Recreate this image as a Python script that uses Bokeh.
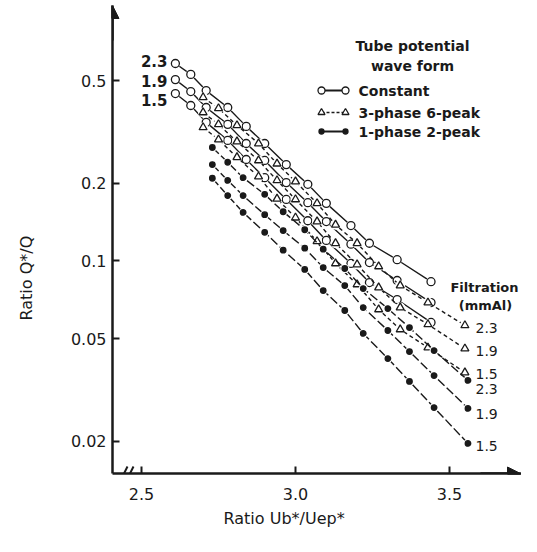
import math
from bokeh.plotting import figure
from bokeh.models import FixedTicker, Label, Arrow, NormalHead, CustomJSTickFormatter, Title
from bokeh.embed import file_html
from bokeh.resources import INLINE

# ---------------- data ----------------
filtration = ["2.3", "1.9", "1.5"]

const_x = [2.61, 2.66, 2.71, 2.78, 2.84, 2.90, 2.97, 3.04, 3.10, 3.18, 3.24, 3.33, 3.44]
const_23 = [0.582, 0.528, 0.457, 0.393, 0.332, 0.285, 0.236, 0.198, 0.167, 0.137, 0.117, 0.101, 0.083]
const_19 = [0.504, 0.453, 0.393, 0.338, 0.285, 0.245, 0.201, 0.168, 0.142, 0.116, 0.0985, 0.0839, 0.0689]
const_15 = [0.445, 0.400, 0.344, 0.293, 0.247, 0.210, 0.173, 0.143, 0.120, 0.0977, 0.0824, 0.0708, 0.0577]

tri_x = [2.70, 2.75, 2.81, 2.88, 2.94, 3.00, 3.07, 3.13, 3.20, 3.27, 3.34, 3.43, 3.55]
tri_23 = [0.430, 0.390, 0.335, 0.285, 0.238, 0.203, 0.167, 0.138, 0.117, 0.0951, 0.0802, 0.0689, 0.0562]
tri_19 = [0.376, 0.338, 0.290, 0.245, 0.205, 0.173, 0.142, 0.117, 0.0968, 0.0788, 0.0659, 0.0567, 0.0457]
tri_15 = [0.329, 0.295, 0.252, 0.212, 0.174, 0.147, 0.119, 0.0977, 0.0810, 0.0648, 0.0542, 0.0461, 0.0369]

dot_x = [2.73, 2.78, 2.83, 2.90, 2.96, 3.03, 3.09, 3.16, 3.22, 3.30, 3.37, 3.45, 3.56]
dot_23 = [0.275, 0.241, 0.210, 0.181, 0.155, 0.132, 0.111, 0.0934, 0.0781, 0.0653, 0.0551, 0.0449, 0.0344]
dot_19 = [0.236, 0.205, 0.179, 0.151, 0.131, 0.112, 0.0942, 0.0802, 0.0659, 0.0537, 0.0445, 0.0359, 0.0268]
dot_15 = [0.209, 0.179, 0.154, 0.129, 0.110, 0.0926, 0.0767, 0.0642, 0.0523, 0.0418, 0.0341, 0.0270, 0.0196]

y_ticks = [0.02, 0.05, 0.1, 0.2, 0.5]
x_ticks = [2.5, 3.0, 3.5]

legend_title = ["Tube potential", "wave form"]
legend_names = ["Constant", "3-phase 6-peak", "1-phase 2-peak"]
x_title = "Ratio Ub*/Uep*"
y_title = "Ratio Q*/Q"

# ---------------- helpers: canvas pixel -> data (for decorations only) ----------------
def px2x(px):
    return 2.5 + (px - 141) / 308.0

def py2y(py):
    return 10 ** (-0.30103 - (py - 80) / 258.0)

INK = "#1a1a1a"
FONT = "DejaVu Sans"
W, H = 521, 536
FL, FT, FB, FR = 112, 5, 473, 521   # frame edges in canvas pixels

p = figure(width=W, height=H, output_backend="svg", toolbar_location=None,
           y_axis_type="log",
           x_range=(px2x(FL), px2x(FR)), y_range=(py2y(FB), py2y(FT)),
           min_border_left=FL, min_border_right=W - FR, min_border_top=FT,
           min_border_bottom=H - FB)
p.outline_line_color = None
p.xgrid.visible = False
p.ygrid.visible = False
p.background_fill_color = "white"

for ax in (p.xaxis[0], p.yaxis[0]):
    ax.axis_line_width = 2.5
    ax.axis_line_color = INK
    ax.major_tick_in = 7
    ax.major_tick_out = 0
    ax.major_tick_line_width = 2
    ax.major_tick_line_color = INK
    ax.minor_tick_line_color = None
    ax.major_label_text_font = FONT
    ax.major_label_text_font_size = "16px"
    ax.major_label_text_color = INK

p.yaxis.ticker = FixedTicker(ticks=y_ticks, minor_ticks=[])
p.xaxis.ticker = FixedTicker(ticks=x_ticks, minor_ticks=[])
p.yaxis.formatter = CustomJSTickFormatter(code="return tick.toString();")
p.xaxis.formatter = CustomJSTickFormatter(code="return tick.toFixed(1);")
p.yaxis.major_label_standoff = 6
p.xaxis.major_label_standoff = 14

# axis titles as side titles, offset like the original
xt = Title(text=x_title, align="left", offset=111, standoff=9,
           text_font=FONT, text_font_size="16px", text_font_style="normal", text_color=INK)
p.add_layout(xt, "below")
# spacer between the y axis and its title, so the title sits near the left edge
p.add_layout(Title(text=" ", text_font_size="1px", standoff=12), "left")
yt = Title(text=y_title, align="left", offset=153, standoff=30, vertical_align="top",
           text_font=FONT, text_font_size="16px", text_font_style="normal", text_color=INK)
p.add_layout(yt, "left")

# ---------------- series ----------------
groups = [
    (const_x, [const_23, const_19, const_15], "circle", 8, "white", None, 10),
    (tri_x, [tri_23, tri_19, tri_15], "triangle", 8, "white", "4 3", 10),
    (dot_x, [dot_23, dot_19, dot_15], "circle", 5.5, INK, "9 3", 9),
]
for xs, series, marker, size, fill, dash, halo in groups:
    for ys in series:
        if dash:
            p.line(xs, ys, line_color=INK, line_width=1.4, line_dash=dash)
        else:
            p.line(xs, ys, line_color=INK, line_width=1.4)
        p.scatter(xs, ys, marker="circle", size=halo, fill_color="white", line_color=None)
        p.scatter(xs, ys, marker=marker, size=size, fill_color=fill, line_color=INK, line_width=1.3)

# ---------------- legend (hand-drawn like the original) ----------------
def lab(px, py, text, size="14px", align="left", bold=False):
    p.add_layout(Label(x=px2x(px), y=py2y(py), text=text, text_font=FONT,
                       text_font_size=size, text_color=INK, text_align=align,
                       text_baseline="middle",
                       text_font_style="bold" if bold else "normal"))

lab(412, 45, legend_title[0], "14px", "center", True)
lab(412, 65, legend_title[1], "14px", "center", True)
samples = [("circle", 7, "white", None, 90), ("triangle", 7, "white", "3 2", 112), ("circle", 5, INK, None, 131)]
for (mk, sz, fc, dash, py), name in zip(samples, legend_names):
    lx = [px2x(321), px2x(345)]
    ly = [py2y(py), py2y(py)]
    if dash:
        p.line(lx, ly, line_color=INK, line_width=1.6, line_dash=dash)
    else:
        p.line(lx, ly, line_color=INK, line_width=1.8)
    p.scatter(lx, ly, marker=mk, size=sz, fill_color=fc, line_color=INK, line_width=1.3)
    lab(358, py, name, "14px", "left", True)

# filtration labels
lab(484, 287, "Filtration", "13px", "center", True)
lab(485, 305, "(mmAl)", "13px", "center", True)
for py, t in zip([327, 350, 373], filtration):
    lab(475, py, t, "14px")
for py, t in zip([388, 413, 445], filtration):
    lab(475, py, t, "14px")
for py, t in zip([60, 80, 99], filtration):
    lab(167, py, t, "15px", "right", True)

# axis arrows and break mark
p.add_layout(Arrow(x_start=px2x(FL), y_start=py2y(40), x_end=px2x(FL), y_end=py2y(FT),
                   line_color=INK, line_width=2.5,
                   end=NormalHead(size=13, fill_color=INK, line_color=INK)))
p.add_layout(Arrow(x_start=px2x(480), y_start=py2y(FB), x_end=px2x(FR - 1), y_end=py2y(FB),
                   line_color=INK, line_width=2.5,
                   end=NormalHead(size=13, fill_color=INK, line_color=INK)))
for bx in (120, 126):
    p.add_layout(Arrow(x_start=px2x(bx), y_start=py2y(480), x_end=px2x(bx + 7), y_end=py2y(466),
                       line_color=INK, line_width=2, end=None))

open("out.html", "w").write(file_html(p, INLINE))
